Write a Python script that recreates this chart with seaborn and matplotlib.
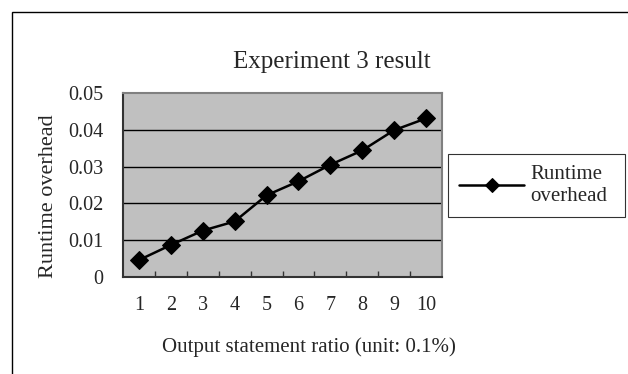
import matplotlib
matplotlib.use("Agg")
import matplotlib.pyplot as plt
import seaborn as sns
import pandas as pd
from matplotlib.patches import Rectangle
from matplotlib.ticker import FixedLocator

ratios = [1, 2, 3, 4, 5, 6, 7, 8, 9, 10]
overhead = [0.0046, 0.0087, 0.0126, 0.0151, 0.0222, 0.0260, 0.0305, 0.0344, 0.0399, 0.0431]
yticks = [0, 0.01, 0.02, 0.03, 0.04, 0.05]
ytick_labels = ["0", "0.01", "0.02", "0.03", "0.04", "0.05"]
series_name = "Runtime overhead"

df = pd.DataFrame({"ratio": ratios, "overhead": overhead})

sns.set_theme(style="white")
plt.rcParams["font.family"] = ["Liberation Serif", "DejaVu Serif"]

W, H = 628, 374
fig = plt.figure(figsize=(W / 100, H / 100), dpi=100)
fig.patch.set_facecolor("white")

# axes position in pixel coords
l, t, r, b = 123, 93, 442, 277
aw, ah = r - l, b - t
ax = fig.add_axes([l / W, 1 - b / H, aw / W, ah / H])
ax.set_facecolor("#C0C0C0")

sns.lineplot(data=df, x="ratio", y="overhead", ax=ax, color="black", lw=1.8,
             marker="D", markersize=9, markeredgecolor="black",
             markerfacecolor="black", label=series_name, zorder=5)

ax.set_xlim(0.5, 10.5)
ax.set_ylim(0, 0.05)
ax.set_yticks(yticks)
ax.set_yticklabels(ytick_labels)
ax.set_xticks(ratios)
ax.set_xticklabels([str(v) for v in ratios])
ax.xaxis.set_minor_locator(FixedLocator([v + 0.5 for v in ratios[:-1]]))
ax.tick_params(axis="x", which="major", length=0, labelsize=14.5, pad=14)
ax.tick_params(axis="x", which="minor", length=4, direction="in", width=1, color="#333333", bottom=True)
ax.tick_params(axis="y", which="major", length=0, labelsize=14.5, pad=14)
for v in yticks[1:-1]:
    ax.axhline(v, color="black", lw=1, zorder=1)
for s in ax.spines.values():
    s.set_color("#808080")
    s.set_linewidth(1.5)
ax.spines["left"].set_color("#333333")
ax.spines["bottom"].set_color("#333333")

ax.set_xlabel("Output statement ratio (unit: 0.1%)", fontsize=15, va="center")
ax.xaxis.set_label_coords((309 - l) / aw, (b - 347) / ah)
ax.set_ylabel("Runtime overhead", fontsize=16)
ax.yaxis.set_label_coords((58 - l) / aw, (b - 196) / ah)
ax.set_title("Experiment 3 result", fontsize=18, pad=18)
ax.title.set_x((332 - l) / aw)

leg = ax.legend(loc="center left",
                bbox_to_anchor=((448 - l) / aw, (b - 218) / ah, (625 - 448) / aw, 65 / ah),
                mode="expand", borderaxespad=0,
                frameon=True, fontsize=15, handlelength=3.1, borderpad=0.55,
                handletextpad=0.3, fancybox=False, labelspacing=0.2)
leg.get_frame().set_edgecolor("black")
leg.get_frame().set_linewidth(0.8)
leg.texts[0].set_text("Runtime\noverhead")
for h in leg.legend_handles:
    h.set_markersize(7)

# outer chart frame
fig.patches.append(Rectangle((12 / W, -0.1), 1.2, 1 - 12 / H + 0.1, transform=fig.transFigure,
                             fill=False, edgecolor="black", lw=1))

fig.savefig("out.png", dpi=100)
